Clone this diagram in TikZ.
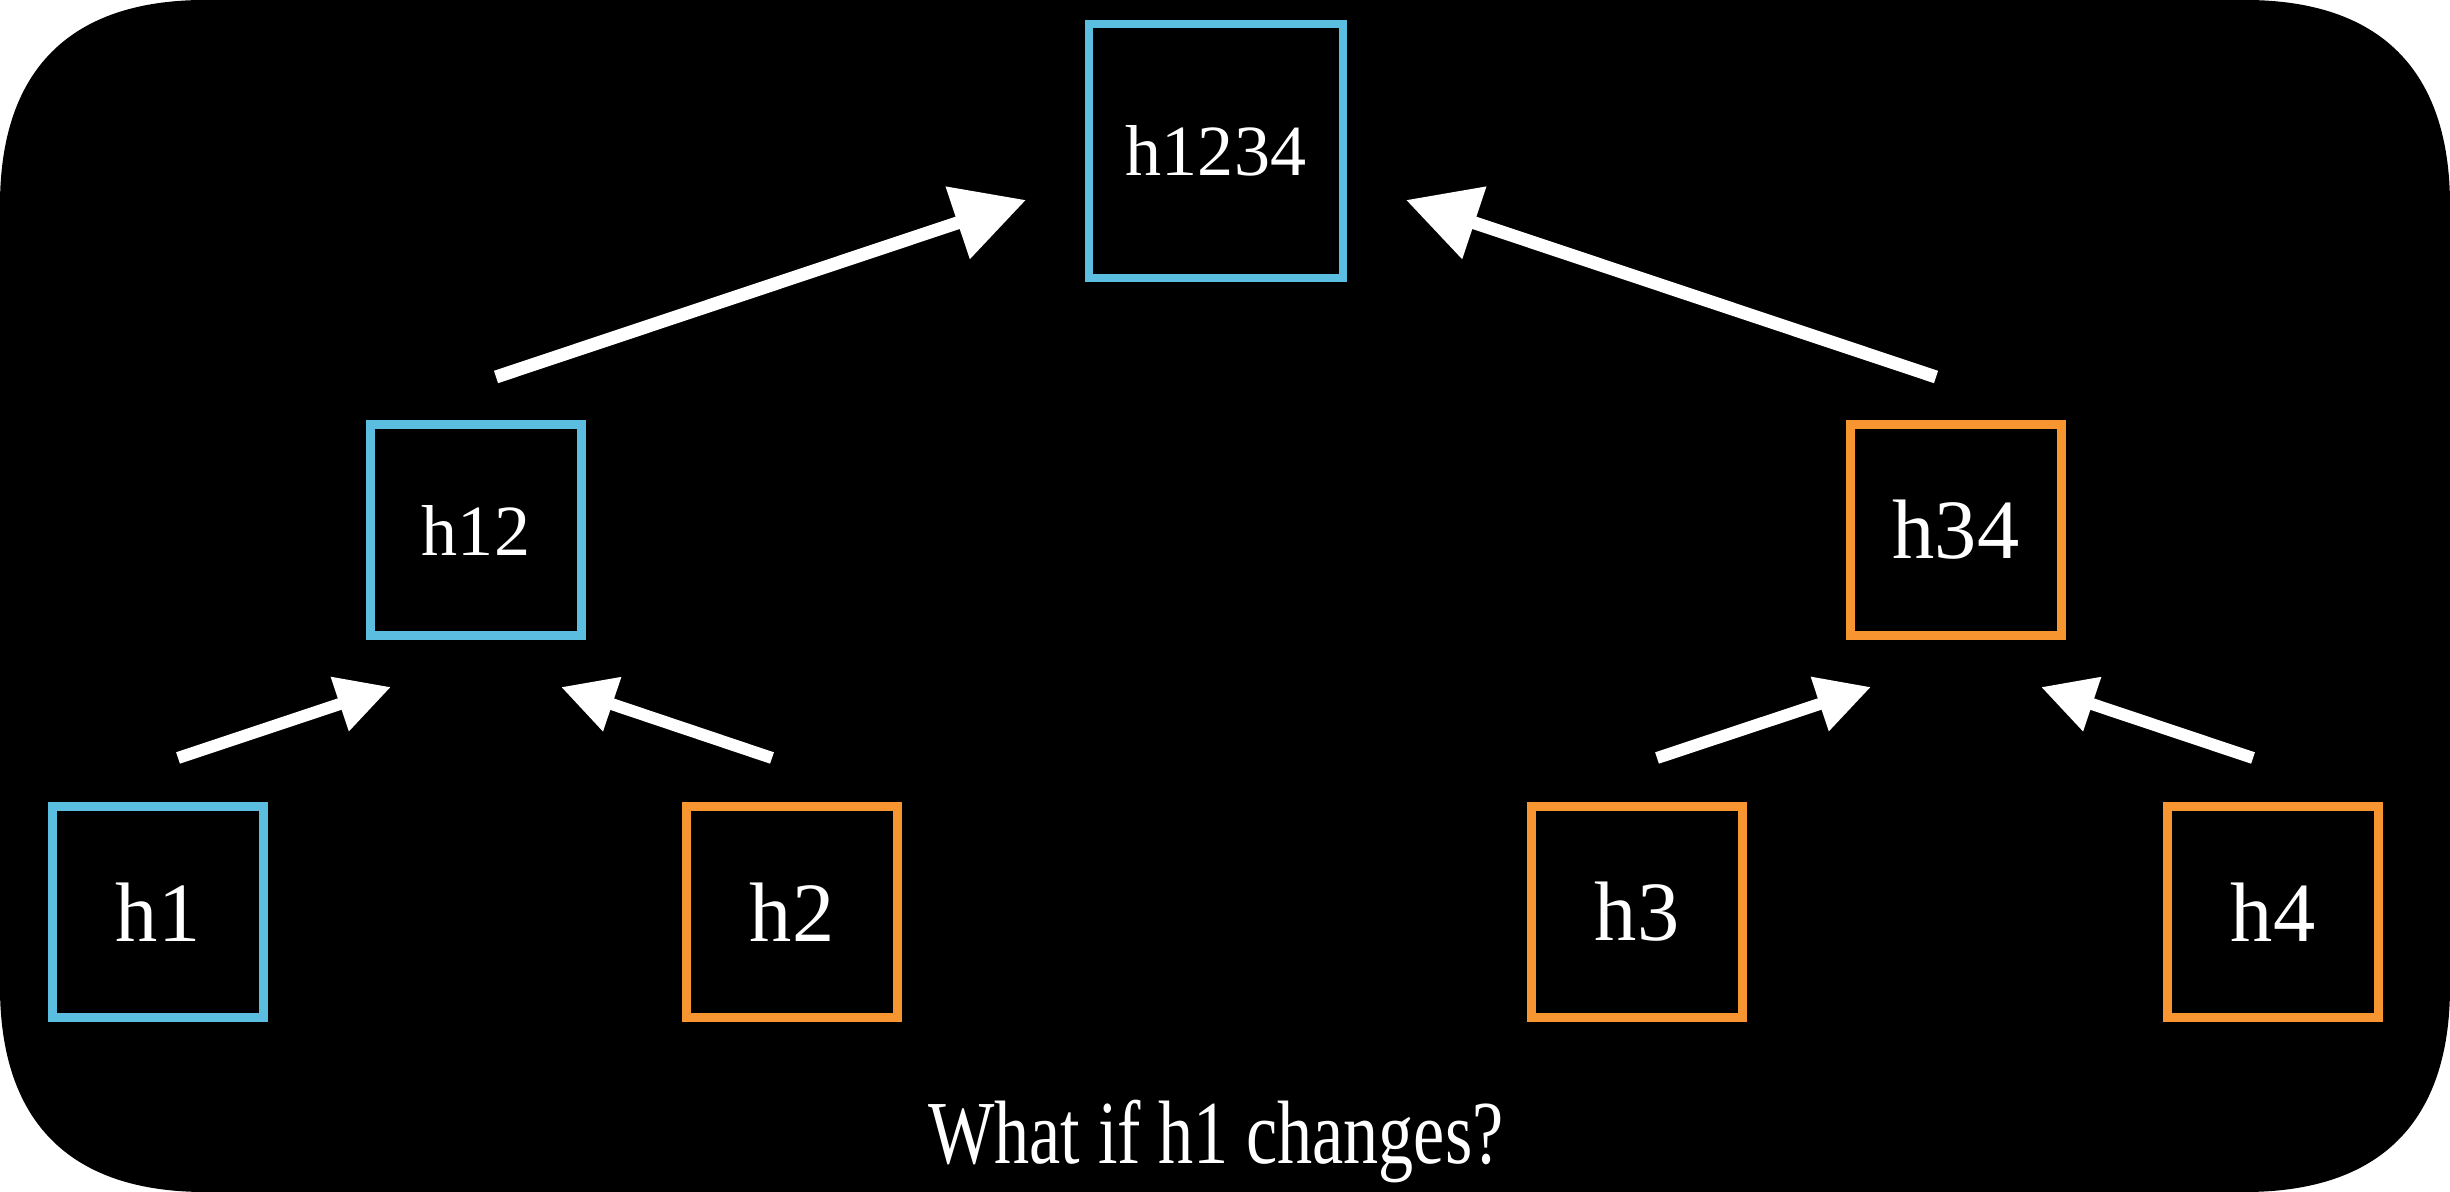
\documentclass[tikz,border=0pt]{standalone}
\usepackage{fontspec}
\setmainfont{Liberation Serif}
\usetikzlibrary{arrows.meta,calc}
\definecolor{hblue}{RGB}{91,190,224}
\definecolor{horange}{RGB}{247,150,48}
\begin{document}
\begin{tikzpicture}[x=0.01cm,y=-0.01cm,
  hashbox/.style={draw, line width=0.085cm, minimum size=2.11cm, inner sep=0pt, text=white},
  bigtext/.style={font=\fontsize{24pt}{28pt}\selectfont},
  smalltext/.style={font=\fontsize{20.5pt}{24pt}\selectfont},
  lowarrow/.style={draw=white, line width=0.12cm, -{Triangle[length=0.54cm,width=0.54cm]}},
  higharrow/.style={draw=white, line width=0.13cm, -{Triangle[length=0.72cm,width=0.73cm]}},
]
\useasboundingbox (0,0) rectangle (2450,1192);
\fill[white] (0,0) rectangle (2450,1192);
\fill[black] (0,205) .. controls (0,70) and (70,0) .. (205,0) -- (2245,0)
  .. controls (2380,0) and (2450,70) .. (2450,205) -- (2450,987)
  .. controls (2450,1122) and (2380,1192) .. (2245,1192) -- (205,1192)
  .. controls (70,1192) and (0,1122) .. (0,987) -- cycle;

\node[hashbox, draw=hblue, minimum size=2.54cm, smalltext] (h1234) at (1216,151) {h1234};
\node[hashbox, draw=hblue, smalltext] (h12) at (476,530) {h12};
\node[hashbox, draw=horange, bigtext] (h34) at (1956,530) {h34};
\node[hashbox, draw=hblue, bigtext] (h1) at (158,912) {h1};
\node[hashbox, draw=horange, bigtext] (h2) at (792,912) {h2};
\node[hashbox, draw=horange, bigtext] (h3) at (1637,912) {h3};
\node[hashbox, draw=horange, bigtext] (h4) at (2273,912) {h4};

\coordinate (t1) at ($(h1.center)+(20,-154)$);
\coordinate (p1) at ($(h12.center)+(-85,157)$);
\coordinate (t2) at ($(h2.center)+(-20,-154)$);
\coordinate (p2) at ($(h12.center)+(85,157)$);
\coordinate (t3) at ($(h3.center)+(20,-154)$);
\coordinate (p3) at ($(h34.center)+(-85,157)$);
\coordinate (t4) at ($(h4.center)+(-20,-154)$);
\coordinate (p4) at ($(h34.center)+(85,157)$);
\coordinate (t5) at ($(h12.center)+(20,-153)$);
\coordinate (p5) at ($(h1234.center)+(-190,49)$);
\coordinate (t6) at ($(h34.center)+(-20,-153)$);
\coordinate (p6) at ($(h1234.center)+(190,49)$);

\draw[lowarrow] (t1) -- (p1);
\draw[lowarrow] (t2) -- (p2);
\draw[lowarrow] (t3) -- (p3);
\draw[lowarrow] (t4) -- (p4);
\draw[higharrow] (t5) -- (p5);
\draw[higharrow] (t6) -- (p6);

\node[text=white, anchor=base, inner sep=0pt, font=\fontsize{25.6pt}{30pt}\selectfont] (question) at (1216,1164) {\scalebox{0.78}[1]{What if h1 changes?}};
\end{tikzpicture}
\end{document}
